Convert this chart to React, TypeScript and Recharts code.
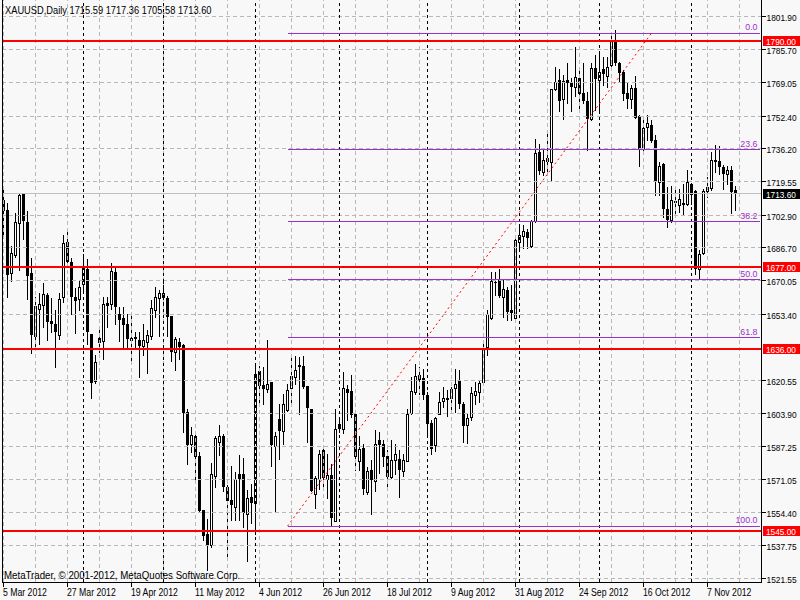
import React from 'react';
import { ComposedChart, Bar, XAxis, YAxis, ReferenceLine } from 'recharts';

// ---- data (XAUUSD daily, 5 Mar 2012 .. 16 Nov 2012) ----
const opens = [
  1710.5, 1705.5, 1673.8, 1683.2, 1698.8, 1713.8, 1699.5, 1673.8, 1642.8, 1656.2,
  1658.3, 1662.8, 1650.0, 1648.8, 1643.2, 1661.8, 1689.5, 1679.5, 1662.2, 1660.8,
  1668.3, 1676.2, 1643.8, 1620.2, 1641.8, 1640.2, 1659.2, 1658.5, 1674.5, 1653.5,
  1651.8, 1648.8, 1640.5, 1642.0, 1640.5, 1637.7, 1639.8, 1642.8, 1655.8, 1661.7,
  1664.2, 1661.5, 1652.7, 1634.7, 1639.5, 1638.2, 1604.8, 1588.5, 1592.8, 1582.8,
  1555.8, 1543.5, 1538.2, 1572.8, 1589.7, 1592.5, 1567.2, 1560.5, 1557.2, 1573.5,
  1573.8, 1553.8, 1562.2, 1559.3, 1625.0, 1618.0, 1616.2, 1619.7, 1587.8, 1601.0,
  1595.2, 1605.5, 1616.7, 1622.2, 1628.2, 1627.5, 1617.5, 1606.0, 1563.8, 1571.2,
  1585.5, 1571.2, 1573.3, 1550.2, 1598.5, 1596.0, 1616.3, 1615.0, 1603.8, 1580.2,
  1586.8, 1564.8, 1575.8, 1570.2, 1590.5, 1588.5, 1582.5, 1572.2, 1580.8, 1581.2,
  1575.2, 1580.2, 1604.2, 1614.7, 1623.0, 1621.7, 1613.0, 1599.2, 1588.0, 1603.8,
  1610.2, 1611.5, 1611.7, 1616.7, 1620.8, 1608.8, 1598.0, 1602.2, 1613.0, 1614.7,
  1619.7, 1637.2, 1651.5, 1669.7, 1670.8, 1662.2, 1665.5, 1655.5, 1651.6, 1689.5,
  1692.4, 1694.4, 1687.7, 1699.9, 1734.6, 1724.6, 1731.6, 1729.6, 1765.9, 1770.4,
  1761.1, 1770.4, 1768.7, 1766.7, 1771.2, 1764.1, 1759.7, 1751.1, 1776.2, 1770.4,
  1775.9, 1772.4, 1777.7, 1790.1, 1779.1, 1774.6, 1764.1, 1760.7, 1766.2, 1752.4,
  1736.2, 1747.1, 1748.2, 1740.4, 1719.6, 1728.4, 1706.2, 1700.4, 1709.9, 1707.9,
  1708.6, 1708.7, 1718.7, 1715.1, 1676.2, 1683.9, 1714.9, 1716.7, 1730.4, 1729.9,
  1727.1, 1723.4, 1725.4, 1715.59,
];
const highs = [
  1716.0, 1708.8, 1687.5, 1704.2, 1714.2, 1714.2, 1704.8, 1681.3, 1662.2, 1663.8,
  1668.8, 1663.8, 1661.5, 1655.5, 1663.8, 1693.0, 1696.3, 1681.3, 1666.3, 1670.5,
  1683.3, 1680.8, 1643.8, 1633.0, 1647.8, 1662.2, 1662.2, 1679.2, 1677.2, 1657.2,
  1657.2, 1653.5, 1653.0, 1644.5, 1644.7, 1648.5, 1645.8, 1660.5, 1666.8, 1665.5,
  1671.3, 1662.5, 1652.7, 1642.2, 1641.7, 1638.8, 1606.0, 1597.2, 1593.3, 1584.7,
  1555.8, 1551.3, 1579.2, 1592.5, 1598.0, 1593.8, 1568.0, 1577.5, 1574.7, 1583.0,
  1581.8, 1565.5, 1568.8, 1629.3, 1627.5, 1627.2, 1640.5, 1619.7, 1594.7, 1608.5,
  1613.8, 1618.8, 1631.8, 1632.8, 1632.2, 1632.5, 1617.8, 1606.3, 1572.8, 1585.5,
  1587.2, 1583.5, 1578.5, 1606.3, 1601.8, 1624.6, 1618.0, 1623.0, 1605.5, 1592.5,
  1588.5, 1577.2, 1580.5, 1595.5, 1594.7, 1590.5, 1585.5, 1590.5, 1588.5, 1585.5,
  1583.8, 1606.3, 1622.2, 1628.8, 1627.2, 1626.3, 1614.7, 1600.5, 1602.0, 1614.7,
  1617.2, 1615.8, 1617.2, 1626.3, 1625.5, 1609.7, 1603.8, 1617.2, 1619.7, 1620.5,
  1639.7, 1655.5, 1674.3, 1674.3, 1676.2, 1670.8, 1667.2, 1667.9, 1692.4, 1698.4,
  1698.0, 1696.2, 1700.7, 1741.2, 1738.7, 1735.7, 1745.7, 1765.9, 1776.7, 1775.7,
  1772.9, 1778.7, 1771.2, 1786.7, 1775.7, 1778.7, 1764.6, 1778.7, 1782.9, 1783.7,
  1782.1, 1782.1, 1794.1, 1795.4, 1779.6, 1775.4, 1768.7, 1767.9, 1772.4, 1752.9,
  1750.4, 1752.9, 1750.7, 1742.9, 1729.6, 1729.1, 1717.1, 1717.4, 1717.1, 1716.2,
  1718.7, 1725.4, 1719.1, 1715.7, 1685.4, 1716.2, 1722.0, 1734.6, 1737.9, 1737.4,
  1727.9, 1727.4, 1727.4, 1717.36,
];
const lows = [
  1692.0, 1662.2, 1670.2, 1681.8, 1675.5, 1691.2, 1661.0, 1634.2, 1635.5, 1638.8,
  1647.2, 1640.5, 1644.8, 1627.2, 1641.2, 1659.7, 1677.2, 1653.5, 1644.2, 1655.5,
  1663.8, 1638.5, 1611.8, 1619.2, 1634.7, 1631.2, 1647.2, 1656.3, 1648.5, 1640.2,
  1636.0, 1636.0, 1630.2, 1636.0, 1622.2, 1633.0, 1624.2, 1641.3, 1652.2, 1642.7,
  1655.5, 1642.7, 1630.2, 1625.5, 1631.3, 1594.7, 1578.5, 1584.7, 1571.3, 1554.8,
  1540.5, 1525.5, 1537.2, 1567.2, 1583.0, 1565.2, 1532.5, 1550.5, 1550.5, 1550.5,
  1547.2, 1530.2, 1549.2, 1543.5, 1608.0, 1608.8, 1614.5, 1577.5, 1554.7, 1581.3,
  1588.8, 1605.2, 1608.8, 1618.5, 1603.5, 1616.5, 1589.7, 1565.0, 1556.7, 1566.3,
  1565.8, 1561.8, 1547.5, 1550.0, 1594.5, 1594.0, 1600.5, 1602.2, 1575.5, 1575.5,
  1563.8, 1563.8, 1553.8, 1565.2, 1574.2, 1577.5, 1567.2, 1571.8, 1573.5, 1562.2,
  1572.8, 1580.0, 1603.8, 1613.5, 1613.5, 1611.3, 1593.8, 1583.8, 1585.2, 1603.5,
  1607.2, 1602.5, 1605.5, 1604.7, 1606.8, 1589.7, 1589.2, 1600.5, 1608.8, 1609.7,
  1619.5, 1633.0, 1651.2, 1663.0, 1662.2, 1652.2, 1650.5, 1650.5, 1650.4, 1685.4,
  1686.6, 1686.6, 1687.1, 1699.7, 1723.4, 1722.9, 1725.1, 1720.4, 1765.4, 1755.1,
  1751.2, 1758.7, 1755.1, 1762.4, 1754.6, 1758.7, 1735.4, 1750.4, 1755.4, 1755.4,
  1767.9, 1767.1, 1777.1, 1777.9, 1769.6, 1760.4, 1756.2, 1756.2, 1751.5, 1727.6,
  1733.7, 1740.7, 1739.6, 1712.9, 1712.9, 1702.1, 1697.1, 1699.6, 1703.7, 1704.6,
  1703.7, 1707.9, 1708.7, 1673.7, 1671.7, 1683.7, 1712.1, 1715.4, 1724.6, 1723.7,
  1716.2, 1718.7, 1704.1, 1705.58,
];
const closes = [
  1705.2, 1673.2, 1683.8, 1699.3, 1713.0, 1700.0, 1672.5, 1643.2, 1657.5, 1658.8,
  1663.5, 1649.7, 1648.8, 1644.8, 1660.8, 1688.8, 1679.5, 1662.2, 1660.2, 1666.8,
  1677.2, 1644.7, 1619.3, 1629.8, 1639.2, 1658.8, 1657.7, 1674.8, 1657.2, 1650.8,
  1648.2, 1641.3, 1641.8, 1641.0, 1637.7, 1640.8, 1643.0, 1656.5, 1661.8, 1663.8,
  1661.3, 1652.2, 1634.7, 1641.3, 1637.2, 1604.2, 1588.0, 1593.3, 1582.2, 1555.2,
  1542.7, 1538.2, 1573.5, 1591.8, 1592.5, 1567.2, 1560.2, 1558.0, 1571.3, 1571.3,
  1554.2, 1561.8, 1559.3, 1623.5, 1617.7, 1616.0, 1618.5, 1588.2, 1592.5, 1595.0,
  1608.8, 1615.8, 1622.5, 1625.8, 1627.2, 1617.2, 1606.7, 1565.2, 1571.8, 1583.5,
  1571.5, 1573.3, 1551.7, 1596.3, 1596.0, 1616.4, 1614.2, 1603.2, 1582.2, 1586.3,
  1566.2, 1575.2, 1570.5, 1588.5, 1588.2, 1582.2, 1572.2, 1580.5, 1583.5, 1575.5,
  1580.5, 1603.5, 1615.0, 1622.5, 1620.8, 1613.0, 1598.5, 1586.0, 1601.8, 1609.8,
  1611.5, 1610.5, 1616.0, 1618.8, 1608.8, 1597.7, 1601.8, 1614.2, 1615.0, 1619.2,
  1636.8, 1653.5, 1670.2, 1668.8, 1662.5, 1665.8, 1654.7, 1654.2, 1690.4, 1692.9,
  1695.1, 1691.7, 1699.9, 1734.2, 1725.1, 1730.7, 1729.6, 1765.7, 1769.2, 1760.1,
  1770.1, 1769.1, 1767.1, 1771.7, 1763.2, 1759.7, 1751.1, 1776.2, 1770.9, 1774.6,
  1773.4, 1777.1, 1790.1, 1778.7, 1773.7, 1763.4, 1760.9, 1766.2, 1751.7, 1736.2,
  1746.7, 1749.1, 1740.1, 1719.6, 1727.4, 1706.2, 1700.4, 1710.7, 1709.1, 1710.9,
  1708.9, 1719.6, 1712.9, 1676.2, 1683.7, 1714.9, 1717.1, 1730.4, 1729.6, 1727.1,
  1723.4, 1725.4, 1714.6, 1713.60,
];
const EMPTY_RIGHT_BARS = 6;

const dateTickIdx = [0, 16, 32, 48, 64, 80, 96, 112, 128, 144, 160, 176];
const dateLabels = [
  '5 Mar 2012', '27 Mar 2012', '19 Apr 2012', '11 May 2012', '4 Jun 2012', '26 Jun 2012',
  '18 Jul 2012', '9 Aug 2012', '31 Aug 2012', '24 Sep 2012', '16 Oct 2012', '7 Nov 2012',
];
const monthStartIdx = [20, 40, 63, 84, 106, 129, 149, 172];
const gridIdx = [0, 8, 16, 24, 32, 40, 48, 56, 64, 72, 80, 88, 96, 104, 112, 120, 128, 136, 144, 152, 160, 168, 176, 184];
const priceTicks = [
  1801.9, 1785.7, 1769.05, 1752.4, 1736.2, 1719.55, 1702.9, 1686.7, 1670.05, 1653.4,
  1620.55, 1603.9, 1587.25, 1571.05, 1554.4, 1537.75, 1521.55,
];
const Y_MIN = 1519.7;
const Y_MAX = 1810.39;
const levelLines = [1790, 1677, 1636, 1545];
const fibHigh = 1793.8;
const fibLow = 1547.6;
const fibStartIdx = 71;
const fibEndIdx = 162;
const fibRatios = [0, 23.6, 38.2, 50, 61.8, 100];
const fibLabels = ['0.0', '23.6', '38.2', '50.0', '61.8', '100.0'];
const lastPrice = 1713.6;
const headerText = 'XAUUSD,Daily  1715.59 1717.36 1705.58 1713.60';
const footerText = 'MetaTrader, \u00A9 2001-2012, MetaQuotes Software Corp.';

const data = [];
for (let i = 0; i < opens.length + EMPTY_RIGHT_BARS; i++) {
  data.push(
    i < opens.length
      ? { idx: i, o: opens[i], h: highs[i], l: lows[i], c: closes[i] }
      : { idx: i, o: null, h: null, l: null, c: null }
  );
}
const LAST_IDX = data.length - 1;

const FONT = "'Liberation Sans', Arial, sans-serif";
const FIB_COLOR = '#9932CC';
const GRID_COLOR = '#b8b8b8';

function SText({ x, y, text, fill = '#000', anchor = 'start', sx = 0.87, size = 10 }: any) {
  return (
    <text
      transform={`translate(${x},${y}) scale(${sx},1)`}
      x={0}
      y={0}
      fontFamily={FONT}
      fontSize={size}
      fill={fill}
      textAnchor={anchor}
    >
      {text}
    </text>
  );
}

const candleRange = (d: any) => (d.h == null ? null : [d.l, d.h]);

function Candle(props: any) {
  const { x, y, width, height, payload } = props;
  if (!payload || payload.h == null || !isFinite(y) || !isFinite(height) || height <= 0) return <g />;
  const cx = Math.floor(x + width / 2) + 0.5;
  const k = height / (payload.h - payload.l);
  const py = (p: number) => y + (payload.h - p) * k;
  const yo = py(payload.o);
  const yc = py(payload.c);
  const top = Math.round(Math.min(yo, yc));
  const bot = Math.round(Math.max(yo, yc));
  const yh = Math.round(y);
  const yl = Math.round(y + height);
  const bull = payload.c >= payload.o;
  return (
    <g shapeRendering="crispEdges">
      <line x1={cx} x2={cx} y1={yh} y2={yl + 1} stroke="#000" strokeWidth={1} />
      {bull ? (
        <rect x={cx - 1} y={top + 0.5} width={2} height={Math.max(bot - top, 0.01)} fill="#fff" stroke="#000" strokeWidth={1} />
      ) : (
        <rect x={cx - 1.5} y={top} width={3} height={Math.max(bot - top, 1)} fill="#000" />
      )}
    </g>
  );
}

function DateTick(p: any) {
  const k = dateTickIdx.indexOf(Number(p.payload && p.payload.value));
  if (k < 0) return <g />;
  return <SText x={p.x - 0.5} y={p.y + 7} text={dateLabels[k]} />;
}

function PriceTick(p: any) {
  const v = Number(p.payload && p.payload.value);
  return <SText x={p.x} y={p.y + 4.5} text={v.toFixed(2)} size={9.6} />;
}

function AxisTag({ viewBox, text, bg }: any) {
  if (!viewBox) return <g />;
  const right = viewBox.x + viewBox.width;
  const cy = Math.round(viewBox.y);
  return (
    <g shapeRendering="crispEdges">
      <rect x={right + 1} y={cy - 5} width={38} height={10} fill={bg} />
      <SText x={right + 4.5} y={cy + 3.5} text={text} fill="#fff" size={9} sx={0.92} />
    </g>
  );
}

function FibLabel({ viewBox, text }: any) {
  if (!viewBox) return <g />;
  const right = viewBox.x + viewBox.width;
  return <SText x={right - 2} y={viewBox.y - 3} text={text} fill={FIB_COLOR} anchor="end" sx={0.9} size={9.8} />;
}

export default function App() {
  return (
    <div style={{ position: 'absolute', left: 0, top: 0, width: 800, height: 600, background: '#f8f8f8', overflow: 'hidden' }}>
      <ComposedChart
        width={800}
        height={600}
        data={data}
        margin={{ top: 0, right: 0, bottom: 0, left: 1.5 }}
        barCategoryGap={0}
        barGap={0}
      >
        <XAxis
          dataKey="idx"
          type="category"
          ticks={dateTickIdx}
          interval={0}
          height={18}
          tickSize={5}
          tickMargin={2}
          axisLine={{ stroke: '#000', shapeRendering: 'crispEdges' }}
          tickLine={{ stroke: '#000', shapeRendering: 'crispEdges' }}
          tick={DateTick}
        />
        <YAxis
          orientation="right"
          type="number"
          domain={[Y_MIN, Y_MAX]}
          allowDataOverflow
          ticks={priceTicks}
          interval={0}
          width={38.5}
          tickSize={4}
          tickMargin={1}
          axisLine={{ stroke: '#000', shapeRendering: 'crispEdges' }}
          tickLine={{ stroke: '#000', shapeRendering: 'crispEdges' }}
          tick={PriceTick}
        />
        {priceTicks.map((v) => (
          <ReferenceLine key={'h' + v} y={v} stroke={GRID_COLOR} strokeDasharray="4 3" shapeRendering="crispEdges" />
        ))}
        {gridIdx.map((i) => (
          <ReferenceLine key={'g' + i} x={i} stroke={GRID_COLOR} strokeDasharray="4 3" shapeRendering="crispEdges" />
        ))}
        {monthStartIdx.map((i) => (
          <ReferenceLine key={'m' + i} x={i} stroke="#000" strokeDasharray="3 3" shapeRendering="crispEdges" />
        ))}
        <ReferenceLine
          y={lastPrice}
          stroke="#c0c0c0"
          shapeRendering="crispEdges"
          label={<AxisTag text={lastPrice.toFixed(2)} bg="#000" />}
        />
        <Bar dataKey={candleRange} shape={Candle} isAnimationActive={false} />
        {fibRatios.map((r, k) => {
          const lvl = fibHigh - (r / 100) * (fibHigh - fibLow);
          return (
            <ReferenceLine
              key={'f' + k}
              segment={[{ x: fibStartIdx, y: lvl }, { x: LAST_IDX, y: lvl }]}
              stroke={FIB_COLOR}
              shapeRendering="crispEdges"
              ifOverflow="visible"
              label={<FibLabel text={fibLabels[k]} />}
            />
          );
        })}
        <ReferenceLine
          segment={[{ x: fibStartIdx, y: fibLow }, { x: fibEndIdx, y: fibHigh }]}
          stroke="#ff0000"
          strokeDasharray="2 3"
          ifOverflow="visible"
        />
        {levelLines.map((v) => (
          <ReferenceLine
            key={'r' + v}
            y={v}
            stroke="#ff0000"
            strokeWidth={2}
            shapeRendering="crispEdges"
            label={<AxisTag text={v.toFixed(2)} bg="#ff0000" />}
          />
        ))}
      </ComposedChart>
      <svg width={800} height={600} style={{ position: 'absolute', left: 0, top: 0, pointerEvents: 'none' }}>
        <line x1={2.5} x2={2.5} y1={0} y2={582} stroke="#000" shapeRendering="crispEdges" />
        <SText x={5} y={14} text={headerText} sx={0.93} />
        <SText x={4} y={579} text={footerText} sx={0.97} />
      </svg>
    </div>
  );
}
